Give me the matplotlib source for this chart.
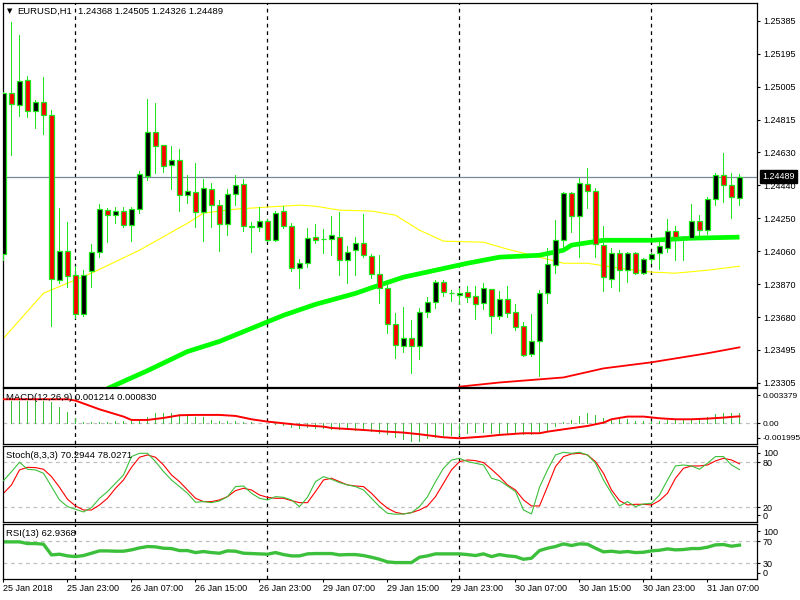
import matplotlib.pyplot as plt
from matplotlib.patches import Rectangle

plt.rcParams['font.family'] = ['Liberation Sans', 'DejaVu Sans']

# EURUSD H1 candles (bar 0 = 25 Jan 2018 15:00)
opens = [1.24043, 1.24970, 1.24901, 1.25045, 1.24867, 1.24918, 1.24844, 1.23893, 1.24060, 1.23922,
         1.23697, 1.23945, 1.24054, 1.24296, 1.24267, 1.24291, 1.24210, 1.24302, 1.24492, 1.24746,
         1.24671, 1.24556, 1.24584, 1.24383, 1.24400, 1.24285, 1.24417, 1.24325, 1.24216, 1.24389,
         1.24446, 1.24198, 1.24198, 1.24233, 1.24123, 1.24291, 1.24204, 1.23963, 1.23991, 1.24141,
         1.24129, 1.24129, 1.24141, 1.24008, 1.24066, 1.24106, 1.24031, 1.23928, 1.23847, 1.23640,
         1.23514, 1.23560, 1.23514, 1.23709, 1.23767, 1.23882, 1.23818, 1.23807, 1.23824, 1.23801,
         1.23761, 1.23841, 1.23686, 1.23784, 1.23709, 1.23629, 1.23468, 1.23543, 1.23818, 1.23980,
         1.24123, 1.24394, 1.24262, 1.24446, 1.24406, 1.24095, 1.23899, 1.24049, 1.23951, 1.24049,
         1.23934, 1.24014, 1.24049, 1.24077, 1.24175, 1.24141, 1.24135, 1.24233, 1.24181, 1.24360,
         1.24498, 1.24440, 1.24368]
highs = [1.24976, 1.25379, 1.25304, 1.25068, 1.24930, 1.25062, 1.24872, 1.24308, 1.24227, 1.23974,
         1.23951, 1.24100, 1.24331, 1.24308, 1.24314, 1.24314, 1.24314, 1.24521, 1.24936, 1.24913,
         1.24671, 1.24665, 1.24648, 1.24498, 1.24567, 1.24475, 1.24452, 1.24354, 1.24417, 1.24498,
         1.24475, 1.24227, 1.24314, 1.24244, 1.24291, 1.24319, 1.24221, 1.24014, 1.24192, 1.24215,
         1.24187, 1.24262, 1.24285, 1.24089, 1.24141, 1.24273, 1.24043, 1.24037, 1.23876, 1.23703,
         1.23738, 1.23663, 1.23732, 1.23795, 1.23893, 1.23893, 1.23836, 1.23847, 1.23859, 1.23859,
         1.23876, 1.23841, 1.23830, 1.23859, 1.23755, 1.23652, 1.23698, 1.23836, 1.24077, 1.24239,
         1.24400, 1.24400, 1.24481, 1.24538, 1.24423, 1.24204, 1.24077, 1.24066, 1.24054, 1.24054,
         1.24020, 1.24049, 1.24112, 1.24244, 1.24204, 1.24146, 1.24331, 1.24267, 1.24371, 1.24510,
         1.24625, 1.24510, 1.24505]
lows = [1.24008, 1.24613, 1.24838, 1.24832, 1.24769, 1.24734, 1.23628, 1.23876, 1.23853, 1.23674,
        1.23686, 1.23853, 1.24026, 1.24112, 1.24221, 1.24198, 1.24118, 1.24279, 1.24469, 1.24509,
        1.24515, 1.24417, 1.24291, 1.24337, 1.24198, 1.24118, 1.24198, 1.24060, 1.24152, 1.24325,
        1.24175, 1.24054, 1.24175, 1.24118, 1.24118, 1.24192, 1.23945, 1.23847, 1.23968, 1.24106,
        1.24049, 1.24037, 1.23922, 1.23876, 1.23922, 1.24026, 1.23905, 1.23761, 1.23588, 1.23444,
        1.23479, 1.23358, 1.23439, 1.23680, 1.23732, 1.23801, 1.23772, 1.23755, 1.23767, 1.23669,
        1.23726, 1.23588, 1.23669, 1.23680, 1.23606, 1.23456, 1.23456, 1.23341, 1.23761, 1.23934,
        1.24077, 1.24169, 1.24026, 1.24308, 1.24026, 1.23830, 1.23853, 1.23830, 1.23882, 1.23928,
        1.23928, 1.23991, 1.23957, 1.24054, 1.24008, 1.24008, 1.24129, 1.24152, 1.24158, 1.24325,
        1.24342, 1.24250, 1.24326]
closes = [1.24970, 1.24907, 1.25039, 1.24867, 1.24918, 1.24844, 1.23899, 1.24060, 1.23916, 1.23697,
          1.23922, 1.24054, 1.24302, 1.24267, 1.24291, 1.24210, 1.24302, 1.24504, 1.24746, 1.24665,
          1.24550, 1.24584, 1.24383, 1.24406, 1.24285, 1.24423, 1.24325, 1.24216, 1.24389, 1.24440,
          1.24204, 1.24204, 1.24233, 1.24123, 1.24279, 1.24204, 1.23963, 1.23991, 1.24135, 1.24123,
          1.24130, 1.24152, 1.24008, 1.24054, 1.24106, 1.24037, 1.23928, 1.23847, 1.23640, 1.23519,
          1.23560, 1.23514, 1.23709, 1.23767, 1.23882, 1.23824, 1.23819, 1.23818, 1.23795, 1.23755,
          1.23847, 1.23686, 1.23784, 1.23703, 1.23623, 1.23462, 1.23543, 1.23818, 1.23986, 1.24123,
          1.24394, 1.24262, 1.24452, 1.24406, 1.24100, 1.23911, 1.24049, 1.23951, 1.24049, 1.23934,
          1.24014, 1.24043, 1.24089, 1.24175, 1.24141, 1.24140, 1.24233, 1.24181, 1.24360, 1.24498,
          1.24440, 1.24371, 1.24489]

# moving averages, read at some bars
ma_yellow_idx = [0, 5, 11, 17, 23, 25, 29, 33, 37, 39, 42, 46, 49, 52, 55, 60, 63, 67, 70, 73, 77, 81, 84, 88, 92]
ma_yellow = [1.23560, 1.23819, 1.23934, 1.24066, 1.24221, 1.24279, 1.24302, 1.24314, 1.24325, 1.24319,
             1.24296, 1.24291, 1.24267, 1.24181, 1.24118, 1.24112, 1.24072, 1.24026, 1.23991, 1.23991,
             1.23963, 1.23940, 1.23934, 1.23951, 1.23974]
ma_green_idx = [13, 18, 23, 27, 31, 35, 39, 44, 46, 50, 54, 58, 62, 67, 70, 71, 75, 81, 86, 92]
ma_green = [1.23271, 1.23374, 1.23484, 1.23542, 1.23617, 1.23692, 1.23755, 1.23818, 1.23850, 1.23911,
            1.23951, 1.23991, 1.24026, 1.24037, 1.24066, 1.24095, 1.24123, 1.24123, 1.24135, 1.24141]
ma_red_idx = [57, 62, 70, 75, 81, 88, 92]
ma_red = [1.23282, 1.23306, 1.23335, 1.23387, 1.23422, 1.23474, 1.23508]

macd_hist = [0.00259, 0.00271, 0.00271, 0.00271, 0.00271, 0.00271, 0.00251, 0.00199, 0.00135, 0.00060,
             0.00016, 0.00012, 0.00012, 0.00016, 0.00028, 0.00028, 0.00032, 0.00040, 0.00072, 0.00119,
             0.00119, 0.00127, 0.00107, 0.00107, 0.00080, 0.00072, 0.00044, 0.00024, 0.00032, 0.00032,
             0.00016, 0.00012, 0.00008, 0.00000, -0.00008, -0.00020, -0.00040, -0.00060, -0.00048, -0.00052,
             -0.00060, -0.00064, -0.00072, -0.00072, -0.00080, -0.00080, -0.00088, -0.00111, -0.00131, -0.00167,
             -0.00191, -0.00207, -0.00207, -0.00179, -0.00167, -0.00139, -0.00139, -0.00139, -0.00111, -0.00100,
             -0.00100, -0.00111, -0.00111, -0.00111, -0.00119, -0.00127, -0.00131, -0.00111, -0.00080, -0.00028,
             0.00016, 0.00040, 0.00088, 0.00119, 0.00100, 0.00068, 0.00048, 0.00048, 0.00048, 0.00032,
             0.00028, 0.00024, 0.00032, 0.00040, 0.00048, 0.00048, 0.00056, 0.00052, 0.00072, 0.00111,
             0.00119, 0.00119, 0.001214]
macd_sig_idx = [0, 4, 8, 9, 12, 15, 16, 18, 20, 22, 24, 27, 29, 31, 33, 35, 37, 40, 41, 43, 45, 48, 50,
                52, 55, 57, 60, 62, 65, 67, 68, 70, 73, 75, 76, 78, 80, 82, 84, 86, 88, 90, 91, 92]
macd_sig = [0.00287, 0.00287, 0.00287, 0.00271, 0.00167, 0.00080, 0.00040, 0.00040, 0.00064, 0.00096,
            0.00100, 0.00100, 0.00088, 0.00048, 0.00020, 0.00000, -0.00020, -0.00040, -0.00056, -0.00068,
            -0.00080, -0.00100, -0.00111, -0.00131, -0.00167, -0.00179, -0.00159, -0.00139, -0.00119, -0.00119,
            -0.00100, -0.00072, -0.00032, 0.00008, 0.00048, 0.00080, 0.00080, 0.00060, 0.00048, 0.00048,
            0.00056, 0.00068, 0.00076, 0.00083]

stoch_k = [55.6, 67.5, 80.0, 70.7, 69.8, 65.3, 47.6, 29.8, 20.9, 17.3,
           13.8, 19.6, 32.0, 40.9, 52.0, 63.0, 87.6, 92.0, 92.0, 81.0,
           67.6, 56.4, 47.6, 38.7, 26.7, 27.6, 26.2, 28.4, 34.2, 47.6,
           48.4, 38.7, 32.0, 29.8, 34.2, 33.3, 29.8, 20.9, 33.3, 54.2,
           60.9, 57.3, 52.9, 49.8, 47.6, 43.1, 32.0, 20.9, 12.0, 10.7,
           11.1, 12.9, 20.9, 34.2, 54.2, 72.0, 83.0, 85.3, 80.9, 78.7,
           76.4, 58.7, 55.6, 48.4, 40.9, 16.4, 11.1, 46.7, 69.8, 89.8,
           93.3, 92.0, 93.3, 89.8, 78.7, 56.4, 38.7, 21.8, 27.6, 20.9,
           24.4, 25.3, 36.4, 56.4, 75.1, 76.4, 75.1, 70.7, 78.7, 87.6,
           87.6, 76.4, 70.2944]
stoch_d = [38.7, 49.8, 69.8, 73.3, 72.9, 70.7, 60.9, 46.7, 30.7, 21.8,
           16.4, 16.4, 23.1, 32.0, 45.3, 56.4, 73.3, 86.7, 89.8, 86.7,
           76.4, 63.1, 54.2, 43.1, 32.0, 27.6, 27.6, 29.8, 34.2, 42.2,
           45.3, 43.1, 36.4, 33.3, 32.0, 32.0, 28.9, 26.2, 26.2, 40.9,
           56.4, 58.7, 54.2, 49.8, 48.4, 47.6, 38.7, 27.6, 18.7, 13.3,
           11.1, 12.9, 16.4, 21.8, 34.2, 52.0, 69.8, 80.9, 83.1, 82.2,
           79.6, 70.7, 60.9, 49.8, 43.1, 29.8, 21.8, 21.8, 47.6, 74.2,
           87.6, 91.1, 92.0, 89.8, 80.9, 65.3, 43.1, 28.9, 23.1, 24.0,
           24.0, 23.1, 28.9, 38.7, 58.7, 72.0, 75.1, 75.1, 76.4, 81.8,
           85.3, 83.1, 78.0271]

rsi = [68.9, 68.9, 68.9, 65.8, 65.8, 64.6, 44.9, 46.2, 43.1, 41.8,
       43.7, 48.0, 52.3, 52.3, 51.7, 51.7, 54.2, 57.8, 60.3, 59.7,
       57.2, 56.6, 52.9, 52.9, 49.2, 51.1, 49.2, 48.0, 52.3, 51.7,
       48.0, 47.4, 46.8, 46.2, 49.2, 45.5, 43.1, 43.1, 46.8, 47.4,
       47.4, 47.4, 44.9, 45.5, 45.5, 43.7, 40.6, 36.9, 32.0, 30.8,
       30.8, 30.8, 40.6, 43.1, 46.8, 46.8, 46.8, 46.8, 45.5, 43.7,
       46.8, 41.8, 45.5, 43.1, 41.8, 36.9, 38.8, 52.9, 57.2, 60.3,
       65.2, 62.2, 65.2, 64.6, 57.2, 50.5, 51.7, 49.8, 51.1, 49.2,
       49.8, 52.3, 53.5, 56.0, 54.2, 54.8, 56.6, 56.6, 59.1, 63.4,
       64.0, 60.9, 62.9368]

time_idx = [0, 8, 16, 24, 32, 40, 48, 56, 64, 72, 80, 88]
time_labels = ['25 Jan 2018', '25 Jan 23:00', '26 Jan 07:00', '26 Jan 15:00', '26 Jan 23:00',
               '29 Jan 07:00', '29 Jan 15:00', '29 Jan 23:00', '30 Jan 07:00', '30 Jan 15:00',
               '30 Jan 23:00', '31 Jan 07:00']
day_starts = [9, 33, 57, 81]

price_ticks = [1.25385, 1.25195, 1.25005, 1.24815, 1.24630, 1.24440, 1.24250, 1.24060,
               1.23870, 1.23680, 1.23495, 1.23305]

FS = 6.5
THIN = 0.6  # a bit under one pixel, drawn without antialiasing -> crisp 1 px
WICK = '#1ee61e'
IND_GREEN = '#3cc03c'
W, H = 800, 600

fig = plt.figure(figsize=(8, 6), dpi=100, facecolor='white')


def panel(top, bottom):
    a = fig.add_axes([2.5 / W, 1 - bottom / H, (757 - 2.5) / W, (bottom - top) / H])
    a.set_xlim(-0.125, 94.19)
    a.yaxis.tick_right()
    # tick length / pad are in points
    a.tick_params(axis='y', direction='out', length=2, pad=2.2, labelsize=FS, width=0.8)
    a.tick_params(axis='x', bottom=False, labelbottom=False)
    for s in a.spines.values():
        s.set_linewidth(0.9)
        s.set_color('black')
    for d in day_starts:
        a.axvline(d, color='black', lw=0.9, ls=(0, (3, 3)), zorder=0)
    return a


ax = panel(2.5, 386.5)
ax_macd = panel(388.3, 444.3)
ax_st = panel(446.3, 522.3)
ax_rsi = panel(524.0, 579.3)

# main chart
ax.set_ylim(1.23283, 1.25489)
ax.set_yticks(price_ticks)
ax.set_yticklabels([f'{p:.5f}' for p in price_ticks])
ax.axhline(closes[-1], color='#778899', lw=0.9, zorder=1)

ax.plot(ma_yellow_idx, ma_yellow, color='#ffff00', lw=0.8, zorder=2)
ax.plot(ma_green_idx, ma_green, color='#00ff00', lw=3.4, zorder=2, solid_capstyle='butt')
ax.plot(ma_red_idx, ma_red, color='#ff0000', lw=1.3, zorder=2)

for i in range(len(opens)):
    o, h, l, c = opens[i], highs[i], lows[i], closes[i]
    ax.vlines(i, l, h, color=WICK, lw=THIN, zorder=3, antialiased=False)
    lo, hi = min(o, c), max(o, c)
    if hi - lo < 0.00003:
        ax.hlines(c, i - 0.3, i + 0.3, color=WICK, lw=0.9, zorder=4)
    else:
        ax.add_patch(Rectangle((i - 0.26, lo), 0.52, hi - lo, facecolor='black' if c > o else '#ff0000',
                               edgecolor=WICK, lw=0.9, zorder=4))

ax.text(1.007, closes[-1], f'{closes[-1]:.5f}', transform=ax.get_yaxis_transform(), color='white',
        fontsize=FS, va='center', ha='left', clip_on=False, zorder=10,
        bbox=dict(facecolor='black', edgecolor='black', pad=1.6))

fig.text(7 / W, 1 - 11.5 / H, '\u25bc', fontsize=5, va='center', ha='left', family='DejaVu Sans')
fig.text(17 / W, 1 - 11 / H, 'EURUSD,H1', fontsize=FS + 0.3, va='center', ha='left')
fig.text(78 / W, 1 - 11 / H, f'{opens[-1]:.5f} {highs[-1]:.5f} {lows[-1]:.5f} {closes[-1]:.5f}',
         fontsize=FS + 0.3, va='center', ha='left')

# MACD
ax_macd.set_ylim(-0.00251, 0.00418)
ax_macd.axhline(0, color='#c0c0c0', lw=0.9, ls=(0, (3, 3)), zorder=0)
ax_macd.vlines(range(len(macd_hist)), 0, macd_hist, color=IND_GREEN, lw=THIN, zorder=2, antialiased=False)
ax_macd.plot(macd_sig_idx, macd_sig, color='#ff0000', lw=1.4, zorder=3)
ax_macd.set_yticks([0.003379, 0.0, -0.00172])
ax_macd.set_yticklabels(['0.003379', '0.00', '-0.001995'])
ax_macd.tick_params(axis='y', labelsize=6.0)
fig.text(6 / W, 1 - 397 / H, f'MACD(12,26,9) {macd_hist[-1]:.6f} {macd_sig[-1]:.6f}',
         fontsize=FS + 0.3, va='center', ha='left')

# Stochastic
ax_st.set_ylim(0, 101.3)
for lv in [20, 80]:
    ax_st.axhline(lv, color='#c0c0c0', lw=0.9, ls=(0, (3, 3)), zorder=0)
ax_st.plot(range(len(stoch_d)), stoch_d, color='#ff0000', lw=0.8, zorder=2)
ax_st.plot(range(len(stoch_k)), stoch_k, color=IND_GREEN, lw=0.8, zorder=3)
ax_st.set_yticks([92.5, 80, 20, 9.5])
ax_st.set_yticklabels(['100', '80', '20', '0'])
fig.text(6 / W, 1 - 456 / H, f'Stoch(8,3,3) {stoch_k[-1]:.4f} {stoch_d[-1]:.4f}',
         fontsize=FS + 0.3, va='center', ha='left')

# RSI
ax_rsi.set_ylim(0, 101.8)
for lv in [30, 70]:
    ax_rsi.axhline(lv, color='#c0c0c0', lw=0.9, ls=(0, (3, 3)), zorder=0)
ax_rsi.plot(range(len(rsi)), rsi, color=IND_GREEN, lw=2.4, zorder=2)
ax_rsi.set_yticks([88, 70, 30, 12])
ax_rsi.set_yticklabels(['100', '70', '30', '0'])
fig.text(6 / W, 1 - 534 / H, f'RSI(13) {rsi[-1]:.4f}', fontsize=FS + 0.3, va='center', ha='left')

ax_rsi.tick_params(axis='x', bottom=True, labelbottom=True, direction='out', length=2, pad=1.5,
                   labelsize=FS, width=0.8)
ax_rsi.set_xticks(time_idx)
ax_rsi.set_xticklabels(time_labels, ha='left')

fig.savefig('out.png', dpi=100, facecolor='white')
